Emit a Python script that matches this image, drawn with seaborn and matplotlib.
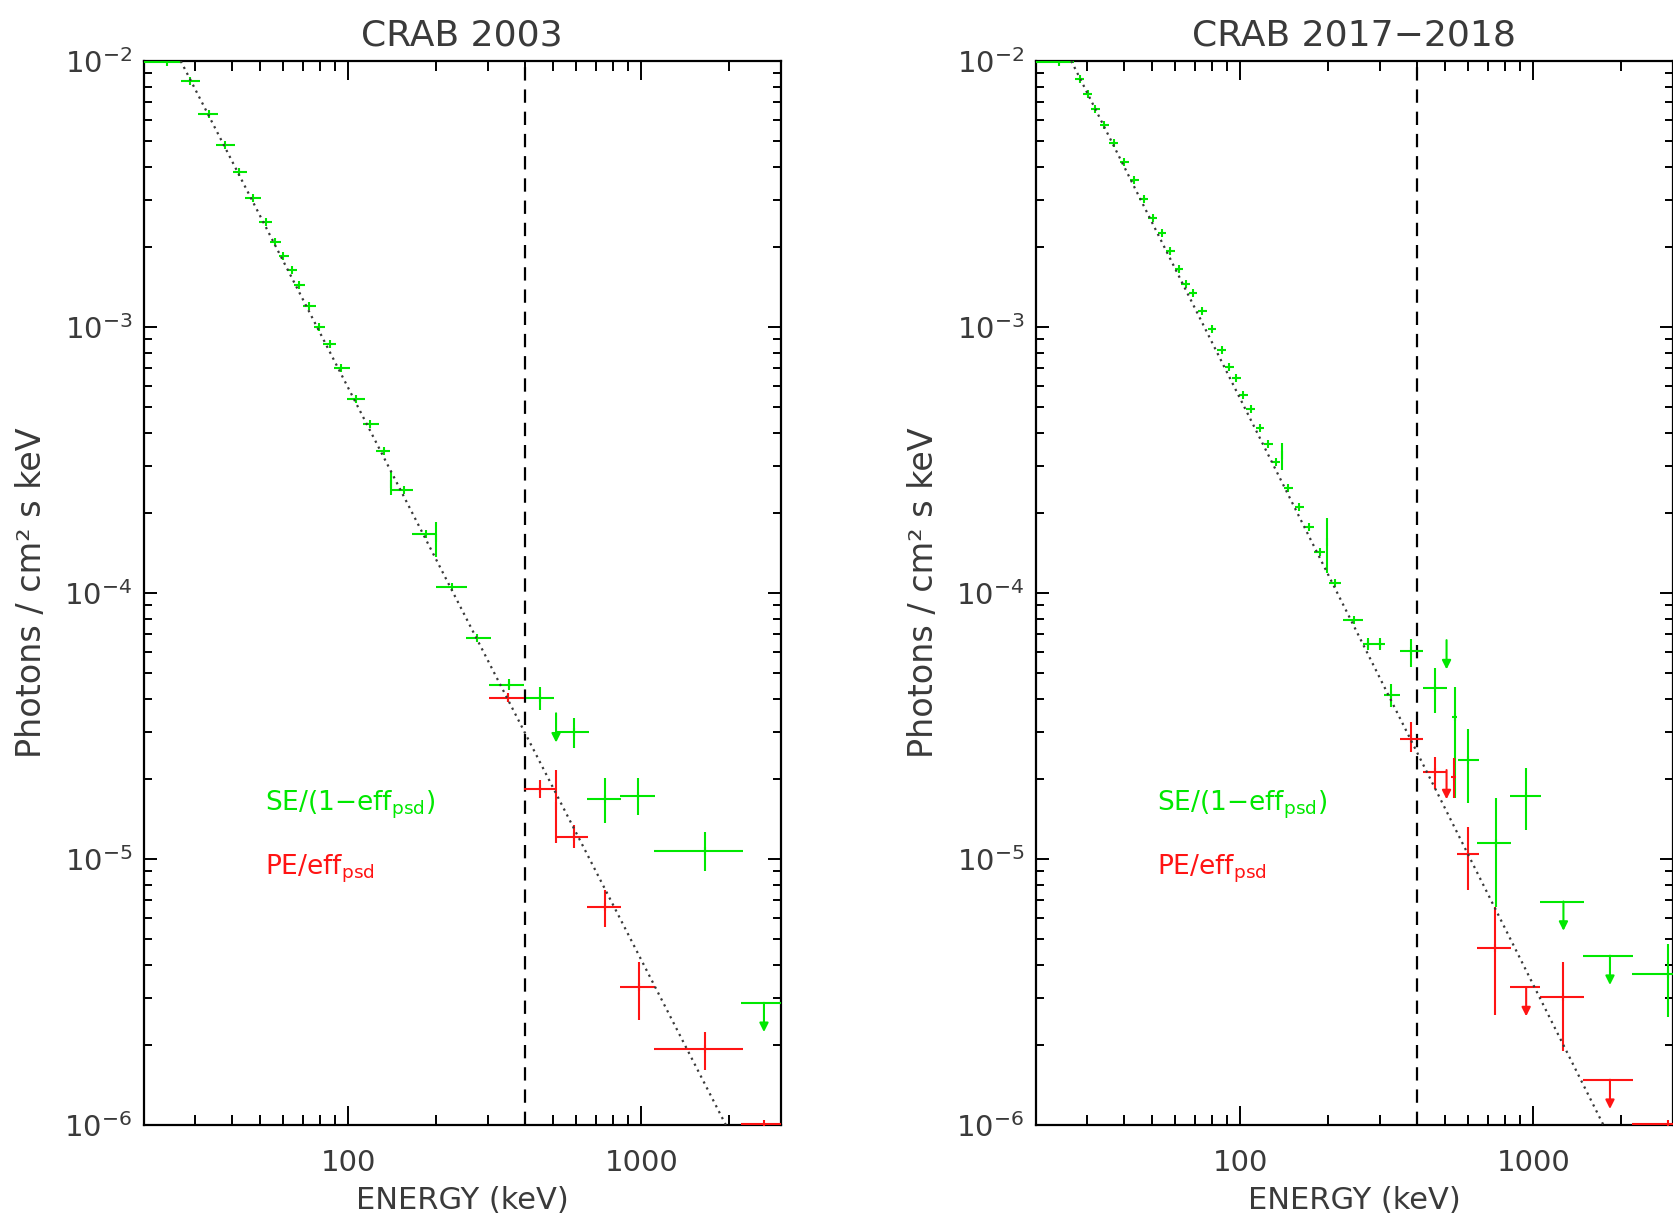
import numpy as np
import matplotlib
matplotlib.use("Agg")
import matplotlib.pyplot as plt
import seaborn as sns
from matplotlib.ticker import LogLocator, FixedLocator, FixedFormatter, NullFormatter

# ---------------- data ----------------
TITLES = ["CRAB 2003", "CRAB 2017\u22122018"]
XLABEL = "ENERGY (keV)"
YLABEL = "Photons / cm\u00b2 s keV"
LEGEND_LABELS = [r"SE/(1$-$eff$_{\rm psd}$)", r"PE/eff$_{\rm psd}$"]
XTICKS = [100, 1000]
XTICK_LABELS = ["100", "1000"]
THRESHOLD_KEV = 400

# ---- CRAB 2003 : SE/(1-eff_psd) (green) ----
se03_E   = [24.0, 28.9, 33.4, 38.1, 42.5, 47.2, 52.3, 56.2, 60.0, 64.1, 68.1, 73.5, 79.7, 86.3, 94.6,
            106.5, 118.9, 132.1, 140.0, 154.5, 183.6, 200.0, 226.5, 276.0, 354.0, 452.0, 589.0,
            753.0, 975.0, 1656.0]
se03_Elo = [20.0, 26.8, 30.7, 35.3, 40.5, 44.5, 49.5, 54.0, 57.9, 61.7, 65.3, 69.8, 76.1, 82.3, 89.1,
            99.0, 111.9, 124.7, 140.0, 140.0, 165.3, 200.0, 199.5, 251.6, 302.0, 403.6, 512.0,
            653.0, 849.0, 1105.0]
se03_Ehi = [27.0, 31.1, 35.8, 41.1, 45.2, 50.2, 55.0, 58.9, 62.7, 66.7, 71.1, 77.5, 83.6, 90.5, 101.0,
            114.3, 127.0, 139.1, 140.0, 166.6, 200.0, 200.0, 254.7, 306.0, 398.0, 505.0, 661.0,
            854.0, 1112.0, 2228.0]
se03_F   = [9.9e-3, 8.43e-3, 6.32e-3, 4.83e-3, 3.82e-3, 3.06e-3, 2.49e-3, 2.09e-3, 1.85e-3, 1.64e-3,
            1.44e-3, 1.20e-3, 1.00e-3, 8.61e-4, 7.00e-4, 5.36e-4, 4.30e-4, 3.43e-4, 2.58e-4, 2.43e-4,
            1.67e-4, 1.61e-4, 1.057e-4, 6.76e-5, 4.51e-5, 4.04e-5, 3.01e-5, 1.68e-5, 1.73e-5, 1.07e-5]
se03_Flo = [9.9e-3, 8.43e-3, 6.32e-3, 4.83e-3, 3.82e-3, 3.06e-3, 2.49e-3, 2.09e-3, 1.85e-3, 1.64e-3,
            1.44e-3, 1.20e-3, 1.00e-3, 8.61e-4, 7.00e-4, 5.36e-4, 4.30e-4, 3.43e-4, 2.33e-4, 2.43e-4,
            1.67e-4, 1.37e-4, 1.057e-4, 6.76e-5, 4.31e-5, 3.63e-5, 2.61e-5, 1.37e-5, 1.46e-5, 9.04e-6]
se03_Fhi = [9.9e-3, 8.43e-3, 6.32e-3, 4.83e-3, 3.82e-3, 3.06e-3, 2.49e-3, 2.09e-3, 1.85e-3, 1.64e-3,
            1.44e-3, 1.20e-3, 1.00e-3, 8.61e-4, 7.00e-4, 5.36e-4, 4.30e-4, 3.43e-4, 2.86e-4, 2.43e-4,
            1.67e-4, 1.85e-4, 1.057e-4, 6.76e-5, 4.77e-5, 4.45e-5, 3.38e-5, 2.01e-5, 2.01e-5, 1.26e-5]
se03_ul_E   = [512.0, 2624.0]
se03_ul_Elo = [512.0, 2198.0]
se03_ul_Ehi = [512.0, 3133.0]
se03_ul_F   = [3.53e-5, 2.88e-6]

# ---- CRAB 2003 : PE/eff_psd (red) ----
pe03_E   = [352.0, 450.0, 512.0, 589.0, 753.0, 980.0, 1656.0, 2624.0]
pe03_Elo = [302.0, 398.0, 512.0, 512.0, 653.0, 849.0, 1105.0, 2198.0]
pe03_Ehi = [398.0, 512.0, 512.0, 656.0, 854.0, 1112.0, 2228.0, 3133.0]
pe03_F   = [4.04e-5, 1.84e-5, 1.58e-5, 1.21e-5, 6.62e-6, 3.30e-6, 1.93e-6, 1.01e-6]
pe03_Flo = [3.90e-5, 1.69e-5, 1.15e-5, 1.10e-5, 5.57e-6, 2.48e-6, 1.61e-6, 1.01e-6]
pe03_Fhi = [4.20e-5, 1.98e-5, 2.16e-5, 1.34e-5, 7.64e-6, 4.11e-6, 2.24e-6, 1.01e-6]

# ---- CRAB 2017-2018 : SE/(1-eff_psd) (green) ----
se17_E   = [24.0, 28.3, 30.1, 32.0, 34.4, 37.0, 40.2, 43.5, 46.8, 50.3, 54.0, 57.7, 61.8, 65.2, 68.9,
            74.3, 80.0, 86.5, 91.8, 96.8, 102.5, 108.6, 116.8, 124.7, 132.4, 138.4, 145.8, 159.0,
            171.9, 186.9, 197.2, 210.5, 244.2, 273.1, 299.3, 383.8, 328.0, 461.0, 539.0, 599.0,
            745.0, 946.0, 2885.0]
se17_Elo = [20.0, 27.3, 29.1, 30.9, 33.2, 35.7, 38.8, 42.0, 45.2, 48.6, 52.2, 55.8, 59.7, 63.0, 66.6,
            71.8, 77.3, 83.6, 88.7, 93.5, 99.0, 104.9, 112.8, 120.4, 127.9, 138.4, 140.8, 153.6,
            166.0, 179.0, 197.2, 201.5, 224.4, 262.4, 284.0, 351.0, 309.0, 419.0, 528.0, 553.0,
            644.0, 836.0, 2168.0]
se17_Ehi = [27.0, 29.3, 31.1, 33.1, 35.6, 38.3, 41.6, 45.0, 48.4, 52.0, 55.9, 59.7, 63.9, 67.4, 71.3,
            76.9, 82.8, 89.5, 95.0, 100.2, 106.1, 112.4, 120.9, 129.1, 137.0, 138.4, 150.9, 164.6,
            177.9, 194.5, 197.2, 220.0, 262.4, 284.0, 311.0, 422.0, 352.0, 508.0, 550.0, 653.0,
            841.0, 1064.0, 3837.0]
se17_F   = [9.9e-3, 8.56e-3, 7.52e-3, 6.58e-3, 5.74e-3, 4.91e-3, 4.16e-3, 3.56e-3, 3.03e-3, 2.58e-3,
            2.25e-3, 1.93e-3, 1.65e-3, 1.45e-3, 1.34e-3, 1.15e-3, 9.82e-4, 8.20e-4, 7.10e-4, 6.41e-4,
            5.55e-4, 4.91e-4, 4.18e-4, 3.62e-4, 3.10e-4, 3.30e-4, 2.49e-4, 2.10e-4, 1.77e-4, 1.43e-4,
            1.56e-4, 1.09e-4, 7.90e-5, 6.43e-5, 6.43e-5, 6.07e-5, 4.14e-5, 4.39e-5, 3.43e-5, 2.36e-5,
            1.15e-5, 1.73e-5, 3.70e-6]
se17_Flo = [9.9e-3, 8.56e-3, 7.52e-3, 6.58e-3, 5.74e-3, 4.91e-3, 4.16e-3, 3.56e-3, 3.03e-3, 2.58e-3,
            2.25e-3, 1.93e-3, 1.65e-3, 1.45e-3, 1.34e-3, 1.15e-3, 9.82e-4, 8.20e-4, 7.10e-4, 6.41e-4,
            5.55e-4, 4.91e-4, 4.18e-4, 3.62e-4, 3.10e-4, 2.90e-4, 2.49e-4, 2.10e-4, 1.77e-4, 1.43e-4,
            1.19e-4, 1.09e-4, 7.90e-5, 6.10e-5, 6.10e-5, 5.25e-5, 3.74e-5, 3.53e-5, 1.69e-5, 1.62e-5,
            6.62e-6, 1.29e-5, 2.54e-6]
se17_Fhi = [9.9e-3, 8.56e-3, 7.52e-3, 6.58e-3, 5.74e-3, 4.91e-3, 4.16e-3, 3.56e-3, 3.03e-3, 2.58e-3,
            2.25e-3, 1.93e-3, 1.65e-3, 1.45e-3, 1.34e-3, 1.15e-3, 9.82e-4, 8.20e-4, 7.10e-4, 6.41e-4,
            5.55e-4, 4.91e-4, 4.18e-4, 3.62e-4, 3.10e-4, 3.66e-4, 2.49e-4, 2.10e-4, 1.77e-4, 1.43e-4,
            1.91e-4, 1.09e-4, 7.90e-5, 6.80e-5, 6.80e-5, 6.72e-5, 4.55e-5, 5.21e-5, 4.45e-5, 3.07e-5,
            1.69e-5, 2.19e-5, 4.79e-6]
se17_ul_E   = [506.0, 1268.0, 1828.0]
se17_ul_Elo = [506.0, 1057.0, 1476.0]
se17_ul_Ehi = [506.0, 1489.0, 2183.0]
se17_ul_F   = [6.65e-5, 6.92e-6, 4.33e-6]

# ---- CRAB 2017-2018 : PE/eff_psd (red) ----
pe17_E   = [384.0, 461.0, 535.0, 599.0, 741.0, 1268.0, 2885.0]
pe17_Elo = [351.0, 419.0, 525.0, 550.0, 644.0, 1057.0, 2168.0]
pe17_Ehi = [422.0, 506.0, 546.0, 652.0, 841.0, 1489.0, 3837.0]
pe17_F   = [2.83e-5, 2.12e-5, 2.04e-5, 1.04e-5, 4.61e-6, 3.02e-6, 1.01e-6]
pe17_Flo = [2.53e-5, 1.84e-5, 1.69e-5, 7.66e-6, 2.59e-6, 1.89e-6, 1.01e-6]
pe17_Fhi = [3.28e-5, 2.42e-5, 2.39e-5, 1.32e-5, 6.62e-6, 4.11e-6, 1.01e-6]
pe17_ul_E   = [506.0, 946.0, 1828.0]
pe17_ul_Elo = [506.0, 836.0, 1476.0]
pe17_ul_Ehi = [506.0, 1055.0, 2183.0]
pe17_ul_F   = [2.16e-5, 3.30e-6, 1.48e-6]

# ---- power-law model (dotted) end points ----
model03_E = [26.8, 1945.0]
model03_F = [1.0e-2, 1.0e-6]
model17_E = [26.5, 1736.0]
model17_F = [1.0e-2, 1.0e-6]

# ---------------- style ----------------
sns.set_theme(style="ticks")
plt.rcParams["font.family"] = ["DejaVu Sans"]
plt.rcParams["mathtext.fontset"] = "dejavusans"
plt.rcParams["mathtext.default"] = "regular"

GREEN = "#00e800"
RED = "#ff1414"
TEXT = "#3a3a3a"
LW = 1.5
ARROW_DEX = 0.11

W, H = 1673, 1219
fig = plt.figure(figsize=(W / 100, H / 100), dpi=100)
ax_w = 637.5 / W
ax_h = 1064 / H
ax_b = 1 - 1125 / H
ax1 = fig.add_axes([143.5 / W, ax_b, ax_w, ax_h])
ax2 = fig.add_axes([1035.5 / W, ax_b, ax_w, ax_h])


def draw_points(ax, E, Elo, Ehi, F, Flo, Fhi, color):
    E, Elo, Ehi = np.asarray(E), np.asarray(Elo), np.asarray(Ehi)
    F, Flo, Fhi = np.asarray(F), np.asarray(Flo), np.asarray(Fhi)
    ax.errorbar(E, F, xerr=[E - Elo, Ehi - E], yerr=[F - Flo, Fhi - F], fmt="none",
                ecolor=color, elinewidth=LW, capsize=0, zorder=3)
    sns.scatterplot(x=E, y=F, marker="|", color=color, s=35, linewidth=LW,
                    ax=ax, zorder=4, legend=False)


def draw_uls(ax, E, Elo, Ehi, F, color):
    E, Elo, Ehi, F = map(np.asarray, (E, Elo, Ehi, F))
    ax.errorbar(E, F, xerr=[E - Elo, Ehi - E], fmt="none", ecolor=color,
                elinewidth=LW, capsize=0, zorder=3)
    for e, f in zip(E, F):
        ax.annotate("", xy=(e, f * 10 ** (-ARROW_DEX)), xytext=(e, f),
                    arrowprops=dict(arrowstyle="-|>", color=color, lw=LW,
                                    shrinkA=0, shrinkB=0, mutation_scale=13),
                    zorder=3)


panels = [
    (ax1, TITLES[0],
     (se03_E, se03_Elo, se03_Ehi, se03_F, se03_Flo, se03_Fhi),
     (se03_ul_E, se03_ul_Elo, se03_ul_Ehi, se03_ul_F),
     (pe03_E, pe03_Elo, pe03_Ehi, pe03_F, pe03_Flo, pe03_Fhi),
     None,
     (model03_E, model03_F)),
    (ax2, TITLES[1],
     (se17_E, se17_Elo, se17_Ehi, se17_F, se17_Flo, se17_Fhi),
     (se17_ul_E, se17_ul_Elo, se17_ul_Ehi, se17_ul_F),
     (pe17_E, pe17_Elo, pe17_Ehi, pe17_F, pe17_Flo, pe17_Fhi),
     (pe17_ul_E, pe17_ul_Elo, pe17_ul_Ehi, pe17_ul_F),
     (model17_E, model17_F)),
]

for ax, title, se, se_ul, pe, pe_ul, model in panels:
    ax.set_xscale("log")
    ax.set_yscale("log")
    ax.set_xlim(20, 3000)
    ax.set_ylim(1e-6, 1e-2)

    draw_points(ax, *se, GREEN)
    draw_uls(ax, *se_ul, GREEN)
    draw_points(ax, *pe, RED)
    if pe_ul is not None:
        draw_uls(ax, *pe_ul, RED)

    sns.lineplot(x=model[0], y=model[1], ax=ax, color="#3a3a3a", lw=1.6,
                 linestyle=(0, (1, 2)), zorder=5, legend=False)
    ax.axvline(THRESHOLD_KEV, color="black", lw=1.6, linestyle=(0, (6, 4)), zorder=2)

    ax.text(0.19, 0.296, LEGEND_LABELS[0], transform=ax.transAxes, color=GREEN,
            fontsize=19, va="baseline", ha="left")
    ax.text(0.19, 0.235, LEGEND_LABELS[1], transform=ax.transAxes, color=RED,
            fontsize=19, va="baseline", ha="left")

    ax.xaxis.set_major_locator(FixedLocator(XTICKS))
    ax.xaxis.set_major_formatter(FixedFormatter(XTICK_LABELS))
    ax.xaxis.set_minor_locator(LogLocator(base=10, subs=np.arange(2, 10), numticks=20))
    ax.xaxis.set_minor_formatter(NullFormatter())
    ax.yaxis.set_major_locator(LogLocator(base=10, numticks=10))
    ax.yaxis.set_minor_locator(LogLocator(base=10, subs=np.arange(2, 10), numticks=20))
    ax.yaxis.set_minor_formatter(NullFormatter())

    ax.tick_params(which="both", direction="in", top=True, right=True,
                   color="black", width=1.4, labelcolor=TEXT)
    ax.tick_params(axis="x", which="major", length=14, labelsize=21, pad=17)
    ax.tick_params(axis="x", which="minor", length=7)
    ax.tick_params(axis="y", which="major", length=9.5, labelsize=21, pad=8)
    ax.tick_params(axis="y", which="minor", length=5.8)
    for s in ax.spines.values():
        s.set_linewidth(1.6)
        s.set_color("black")
        s.set_visible(True)

    ax.set_title(title, fontsize=26, pad=11, color=TEXT)
    ax.set_xlabel(XLABEL, fontsize=22, labelpad=7, color=TEXT)
    ax.set_ylabel(YLABEL, fontsize=24, labelpad=12, color=TEXT)

fig.savefig("out.png", dpi=100, facecolor="white")
